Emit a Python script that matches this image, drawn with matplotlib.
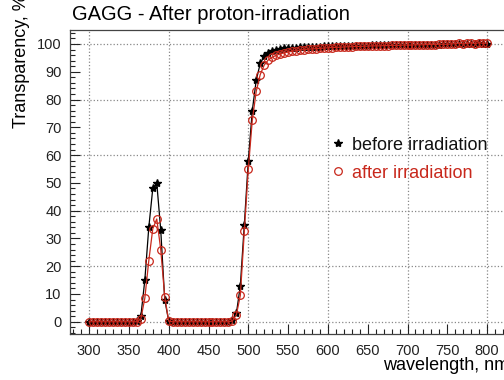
import matplotlib
matplotlib.use('Agg')
from matplotlib import pyplot as plt
from matplotlib.ticker import MultipleLocator

plt.rcParams['font.family'] = ['Liberation Sans', 'DejaVu Sans']

wavelength = [300, 305, 310, 315, 320, 325, 330, 335, 340, 345, 350, 355,
              360, 365, 370, 375, 380, 385, 390, 395, 400,
              405, 410, 415, 420, 425, 430, 435, 440, 445, 450, 455, 460, 465, 470, 475,
              480, 485, 490, 495, 500, 505, 510, 515, 520, 525, 530, 535, 540, 545,
              550, 555, 560, 565, 570, 575, 580, 585, 590, 595, 600, 605, 610, 615,
              620, 625, 630, 635, 640, 645, 650, 655, 660, 665, 670, 675, 680, 685,
              690, 695, 700, 705, 710, 715, 720, 725, 730, 735, 740, 745, 750, 755,
              760, 765, 770, 775, 780, 785, 790, 795, 800]

before = [0, 0, 0, 0, 0, 0, 0, 0, 0, 0, 0, 0,
          0.2, 2, 15, 34, 48, 50, 33, 8, 0.3,
          0, 0, 0, 0, 0, 0, 0, 0, 0, 0, 0, 0, 0, 0, 0,
          0.5, 3, 13, 35, 58, 76, 87, 93, 95.5, 96.8, 97.5, 98, 98.2, 98.4,
          98.5, 98.6, 98.7, 98.8, 98.8, 98.9, 99, 99, 99, 99.1, 99.1, 99.2, 99.2, 99.2,
          99.3, 99.3, 99.3, 99.3, 99.4, 99.4, 99.4, 99.5, 99.5, 99.5, 99.5, 99.6, 99.6, 99.6,
          99.6, 99.6, 99.7, 99.7, 99.7, 99.7, 99.8, 99.8, 99.8, 99.8, 99.8, 99.9, 99.9, 99.9,
          100, 99.9, 100, 100, 100.1, 100, 100.2, 100, 100.1]

after = [0, 0, 0, 0, 0, 0, 0, 0, 0, 0, 0, 0,
         0, 1, 8.5, 22, 33.5, 37, 26, 9, 0.2,
         0, 0, 0, 0, 0, 0, 0, 0, 0, 0, 0, 0, 0, 0, 0,
         0.3, 2.5, 9.5, 32.5, 55, 72.5, 83, 89, 92.4, 94.2, 95.2, 95.9, 96.4, 96.8,
         97.1, 97.4, 97.6, 97.8, 98, 98.1, 98.2, 98.3, 98.4, 98.5, 98.6, 98.7, 98.8, 98.8,
         98.9, 99, 99, 99.1, 99.1, 99.2, 99.2, 99.3, 99.3, 99.3, 99.4, 99.4, 99.5, 99.5,
         99.5, 99.6, 99.6, 99.6, 99.7, 99.7, 99.7, 99.8, 99.8, 99.8, 99.9, 99.9, 99.9, 100,
         100.1, 100.3, 100, 100.2, 100.4, 100.1, 100.5, 100.2, 100.3]

red = '#c8281c'

fig = plt.figure(figsize=(5.04, 3.80), dpi=100)
ax = fig.add_axes([70 / 504, 46 / 380, 437 / 504, 304.5 / 380])

ax.plot(wavelength, before, c='black', linewidth=0.9, marker='*', markersize=6,
        label='before irradiation', zorder=3)
ax.plot(wavelength, after, c=red, linewidth=0.9, marker='o', markersize=5.5,
        markerfacecolor='none', markeredgecolor=red, markeredgewidth=0.9,
        label='after irradiation', zorder=4)

ax.set_xlim(276, 825)
ax.set_ylim(-4.4, 105.2)

ax.xaxis.set_major_locator(MultipleLocator(50))
ax.xaxis.set_minor_locator(MultipleLocator(10))
ax.yaxis.set_major_locator(MultipleLocator(10))
ax.yaxis.set_minor_locator(MultipleLocator(2))
ax.tick_params(which='both', direction='in', top=False, right=False,
               labelsize=10.5, colors='#222222')
ax.tick_params(which='major', length=7, width=0.8)
ax.tick_params(which='minor', length=3.5, width=0.8)
ax.tick_params(axis='x', pad=7)
ax.tick_params(axis='y', pad=6)

for x in [300, 400, 500, 600, 700, 800]:
    ax.axvline(x, color='#888888', linestyle=':', linewidth=0.9, zorder=1)
for y in [0, 20, 40, 60, 80, 100]:
    ax.axhline(y, color='#888888', linestyle=':', linewidth=0.9, zorder=1)

for s in ax.spines.values():
    s.set_color('#444444')
    s.set_linewidth(0.9)

fig.text(72 / 504, 1 - 15 / 380, 'GAGG - After proton-irradiation', fontsize=14.5,
         ha='left', va='center')
fig.text(1.01, 1 - 366 / 380, 'wavelength, nm', fontsize=13, ha='right', va='center')
fig.text(22 / 504, 1.015, 'Transparency, %', fontsize=13, rotation=90,
         ha='center', va='top')

leg = ax.legend(loc='upper left', bbox_to_anchor=(0.576, 0.678), frameon=False,
                fontsize=13, handlelength=0.8, handletextpad=0.4, borderpad=0,
                labelspacing=0.62, labelcolor=['#111111', red])
for h in leg.legend_handles:
    h.set_linestyle('none')

fig.savefig('out.png', dpi=100)
